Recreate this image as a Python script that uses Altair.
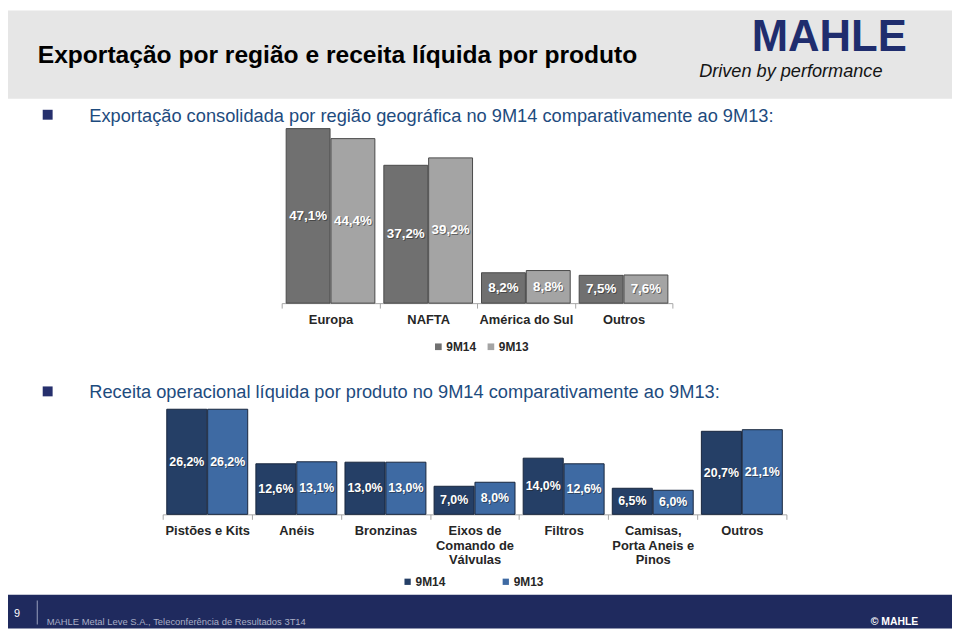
import altair as alt
import pandas as pd

# ---------------- data ----------------
periods = ["9M14", "9M13"]

regions = ["Europa", "NAFTA", "América do Sul", "Outros"]
reg_9m14 = [47.1, 37.2, 8.2, 7.5]
reg_9m13 = [44.4, 39.2, 8.8, 7.6]

products = ["Pistões e Kits", "Anéis", "Bronzinas", "Eixos de|Comando de|Válvulas",
            "Filtros", "Camisas,|Porta Aneis e|Pinos", "Outros"]
prod_9m14 = [26.2, 12.6, 13.0, 7.0, 14.0, 6.5, 20.7]
prod_9m13 = [26.2, 13.1, 13.0, 8.0, 12.6, 6.0, 21.1]

title_text = "Exportação por região e receita líquida por produto"
sub1_text = "Exportação consolidada por região geográfica no 9M14 comparativamente ao 9M13:"
sub2_text = "Receita operacional líquida por produto no 9M14 comparativamente ao 9M13:"
footer_text = "MAHLE Metal Leve S.A., Teleconferência de Resultados 3T14"

W, H = 952, 623   # chart drawn at page offset (8, 8)
M = 8
FONT = "Liberation Sans"


def long_df(cats, a, b):
    rows = []
    for c, v1, v2 in zip(cats, a, b):
        for p, v in zip(periods, (v1, v2)):
            rows.append({"cat": c, "period": p, "value": v,
                         "label": f"{v:.1f}".replace(".", ",") + "%"})
    return pd.DataFrame(rows)


def bar_chart(df, cats, xr, yr, ydom, colors, stroke, axis_y, lab_pad, lab_size,
              leg_x, leg_y, leg_colpad, leg_sym):
    base = alt.Chart(df).transform_calculate(mid="datum.value / 2")
    x = alt.X("cat:N", sort=cats,
              scale=alt.Scale(range=xr, paddingInner=0, paddingOuter=0),
              axis=alt.Axis(orient="bottom", offset=axis_y - H, title=None, labelAngle=0,
                            tickBand="extent", domainColor="#a6a6a6", tickColor="#a6a6a6",
                            tickSize=5, labelFont=FONT, labelFontWeight="bold",
                            labelFontSize=13, labelColor="#262626", labelPadding=lab_pad,
                            labelExpr="split(datum.label, '|')", labelLineHeight=15,
                            labelBaseline="top", grid=False))
    xo = alt.XOffset("period:N", sort=periods,
                     scale=alt.Scale(domain=periods, paddingOuter=0.1, paddingInner=0.02))
    ysc = alt.Scale(domain=ydom, range=yr)
    color = alt.Color("period:N", sort=periods,
                      scale=alt.Scale(domain=periods, range=colors),
                      legend=alt.Legend(orient="none", legendX=leg_x, legendY=leg_y,
                                        direction="horizontal", title=None,
                                        symbolType="square", symbolSize=leg_sym,
                                        symbolStrokeWidth=0, labelFont=FONT,
                                        labelFontWeight="bold", labelFontSize=12,
                                        labelColor="#262626", columnPadding=leg_colpad,
                                        labelOffset=2, padding=0))
    bars = base.mark_bar(stroke=stroke, strokeWidth=1).encode(
        x=x, xOffset=xo, y=alt.Y("value:Q", scale=ysc, axis=None), color=color)
    shadow = base.mark_text(font=FONT, fontWeight="bold", fontSize=lab_size,
                            color="#222222", opacity=0.5, dx=1, dy=1).encode(
        x=x, xOffset=xo, y=alt.Y("mid:Q", scale=ysc, axis=None), text="label:N")
    text = base.mark_text(font=FONT, fontWeight="bold", fontSize=lab_size,
                          color="white").encode(
        x=x, xOffset=xo, y=alt.Y("mid:Q", scale=ysc, axis=None), text="label:N")
    return alt.layer(bars, shadow, text)


df1 = long_df(regions, reg_9m14, reg_9m13)
df2 = long_df(products, prod_9m14, prod_9m13)

chart1 = bar_chart(df1, regions, [284 - M, 678 - M], [303 - M, 127 - M], [0, 47.1],
                   ["#707070", "#a4a4a4"], "#4a4a4a", 303 - M, 6, 13.5,
                   436 - M, 341 - M, 8, 45)
chart2 = bar_chart(df2, products, [164 - M, 793 - M], [516 - M, 410 - M], [0, 26.2],
                   ["#253f66", "#3e6aa3"], "#17253d", 516 - M, 5, 12.5,
                   405 - M, 578 - M, 54, 40)

one = pd.DataFrame({"a": [0]})


def rect(x1, y1, x2, y2, color):
    return alt.Chart(one).mark_rect(color=color).encode(
        x=alt.value(max(x1 - M, 0)), x2=alt.value(x2 - M),
        y=alt.value(max(y1 - M, 0)), y2=alt.value(y2 - M))


def txt(t, x, y, size, color, weight="normal", style="normal", align="left",
        baseline="alphabetic"):
    return alt.Chart(one).mark_text(font=FONT, fontSize=size, color=color, fontWeight=weight,
                                    fontStyle=style, align=align, baseline=baseline).encode(
        x=alt.value(x - M), y=alt.value(y - M), text=alt.value(t))


deco = [
    rect(0, 0, 960, 97, "#e6e6e6"),
    txt(title_text, 38, 61, 24.8, "#000000", weight="bold"),
    txt("MAHLE", 758, 49, 44, "#1f2d6e", weight="bold"),
    txt("Driven by performance", 705, 75, 18.3, "#141414", style="italic"),
    rect(43, 108, 53, 118, "#26306d"),
    txt(sub1_text, 90, 120, 18.4, "#1d4b7e"),
    rect(43, 387, 53, 397, "#26306d"),
    txt(sub2_text, 90, 399, 18.4, "#1d4b7e"),
    rect(0, 597, 960, 631, "#1f2a5e"),
    txt("9", 14, 620, 11, "#ffffff"),
    rect(37, 603, 38, 627, "#9aa0bc"),
    txt(footer_text, 47, 628, 9.5, "#a9aec6"),
    txt("© MAHLE", 878, 628, 10.5, "#ffffff", weight="bold"),
]

chart = alt.layer(*deco, chart1, chart2).resolve_scale(
    x="independent", y="independent", xOffset="independent", color="independent"
).resolve_axis(x="independent", y="independent").resolve_legend(
    color="independent"
).properties(
    width=W, height=H, padding=0, autosize=alt.AutoSizeParams(type="none"),
    background="white"
).configure_view(stroke=None)

chart.save("out.html", embed_options={"renderer": "svg", "actions": False})
